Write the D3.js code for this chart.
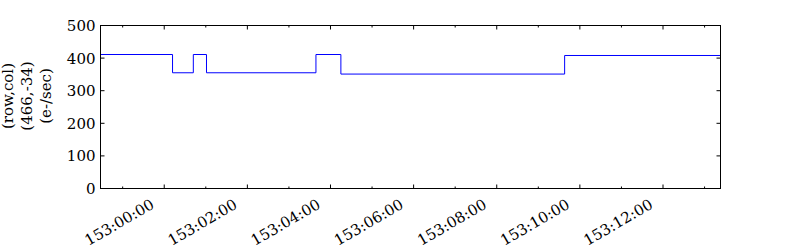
<!DOCTYPE html>
<html>
<head>
<meta charset="utf-8">
<script src="https://cdn.jsdelivr.net/npm/d3@7"></script>
<style>
  body { margin: 0; background: #fff; }
  text { font-family: "DejaVu Serif", serif; font-size: 15px; fill: #000; }
</style>
</head>
<body>
<div id="chart"></div>
<script>
// step edges (year:doy:hh:mm) and the rate held from each edge to the next
var stepTimes = ['2011:152:22:28', '2011:153:00:12', '2011:153:00:42', '2011:153:01:01',
  '2011:153:03:39', '2011:153:04:15', '2011:153:09:38', '2011:153:13:23'];
var stepValues = [411, 355, 411, 355, 411, 351, 408, 408];
var yTicks = [0, 100, 200, 300, 400, 500];
var yLabelLines = ['(row,col)', '(466,-34)', '(e-/sec)'];

var width = 800, height = 250;
var margin = { top: 25, right: 80, bottom: 62, left: 100 };
var w = width - margin.left - margin.right,
  h = height - margin.top - margin.bottom;

var parse = d3.utcParse('%Y:%j:%H:%M');
var data = stepTimes.map(function (t, i) { return { t: parse(t), v: stepValues[i] }; });

var x = d3.scaleUtc()
  .domain(d3.extent(data, function (d) { return d.t; }))
  .range([0, w]);
var y = d3.scaleLinear().domain([0, 500]).range([h, 0]);

var svg = d3.select('#chart').append('svg')
  .attr('width', width)
  .attr('height', height);

var g = svg.append('g')
  .attr('transform', 'translate(' + (margin.left + 0.5) + ',' + (margin.top + 0.5) + ')');

//data line
var line = d3.line()
  .x(function (d) { return x(d.t); })
  .y(function (d) { return y(d.v); })
  .curve(d3.curveStepAfter);

g.append('path')
  .datum(data)
  .attr('fill', 'none')
  .attr('stroke', '#0000ff')
  .attr('stroke-width', 1)
  .attr('d', line);

//ticks point inward, on all four sides
var majorT = x.ticks(d3.utcHour.every(2)),
  minorT = x.ticks(d3.utcHour.every(1));
var tickG = g.append('g').attr('stroke', '#000').attr('stroke-width', 1);

minorT.forEach(function (t) {
  var len = majorT.some(function (m) { return +m === +t; }) ? 4 : 2;
  tickG.append('line').attr('x1', x(t)).attr('x2', x(t)).attr('y1', h).attr('y2', h - len);
  tickG.append('line').attr('x1', x(t)).attr('x2', x(t)).attr('y1', 0).attr('y2', len);
});
yTicks.forEach(function (v) {
  tickG.append('line').attr('x1', 0).attr('x2', 4).attr('y1', y(v)).attr('y2', y(v));
  tickG.append('line').attr('x1', w).attr('x2', w - 4).attr('y1', y(v)).attr('y2', y(v));
});

//frame
g.append('rect')
  .attr('width', w).attr('height', h)
  .attr('fill', 'none').attr('stroke', '#000').attr('stroke-width', 1);

//tick labels
var fmt = d3.utcFormat('%j:%H:%M');
g.selectAll('.xlab').data(majorT).enter().append('text')
  .attr('class', 'xlab')
  .attr('text-anchor', 'end')
  .attr('transform', function (d) { return 'translate(' + (x(d) - 9) + ',' + (h + 19) + ') rotate(-30)'; })
  .text(fmt);

g.selectAll('.ylab').data(yTicks).enter().append('text')
  .attr('class', 'ylab')
  .attr('text-anchor', 'end')
  .attr('x', -5)
  .attr('y', function (d) { return y(d); })
  .attr('dy', '0.36em')
  .text(function (d) { return d; });

//y label, three lines
var yl = svg.append('text')
  .attr('text-anchor', 'middle')
  .attr('transform', 'translate(13,96) rotate(-90)');
yLabelLines.forEach(function (s, i) {
  yl.append('tspan').attr('x', 0).attr('dy', i === 0 ? 0 : 19).text(s);
});
</script>
</body>
</html>
